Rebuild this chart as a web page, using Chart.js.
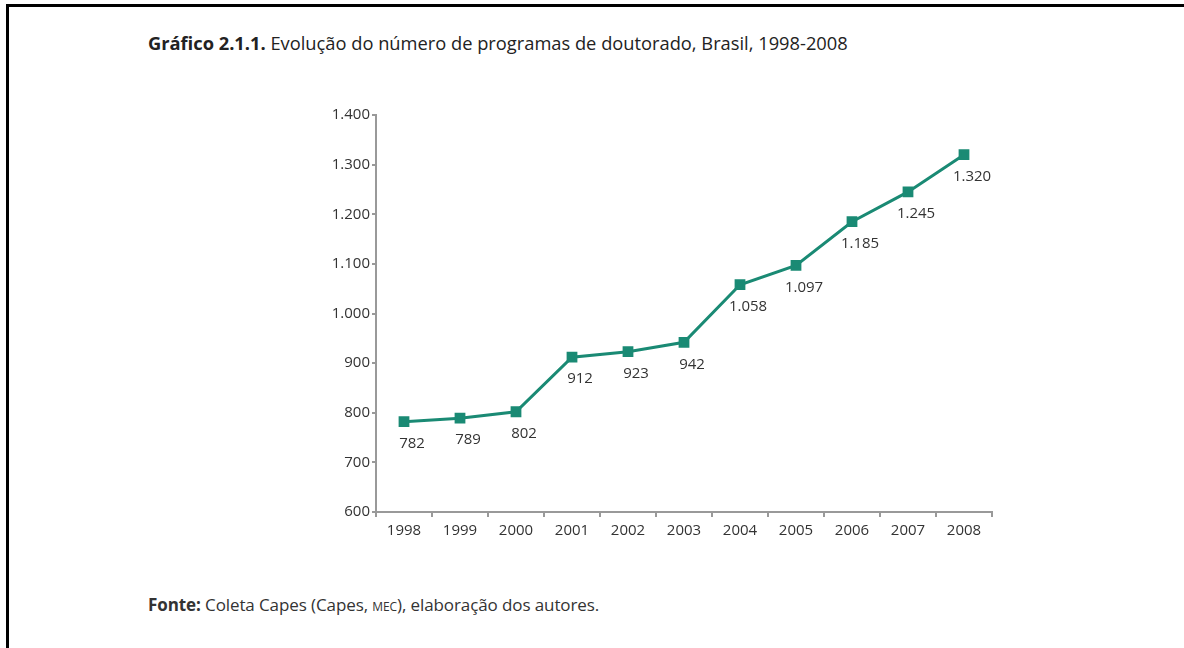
<!DOCTYPE html>
<html>
<head>
<meta charset="utf-8">
<script src="https://cdn.jsdelivr.net/npm/chart.js@4.4.0/dist/chart.umd.min.js"></script>
<style>
  body { margin: 0; background: #fff; font-family: "Open Sans", sans-serif; }
  #frame { position: absolute; left: 6px; top: 4px; width: 1178px; height: 644px;
           border-left: 3px solid #000; border-top: 3px solid #000; box-sizing: border-box; }
  #title { position: absolute; left: 148px; top: 30px; font-size: 18.3px; color: #222; }
  #title b { font-weight: 700; }
  #source { position: absolute; left: 148px; top: 593px; font-size: 17px; color: #333;
            letter-spacing: -0.1px; }
  #wrap { position: absolute; left: 300px; top: 104px; width: 702px; height: 448px; }
</style>
</head>
<body>
<div id="frame"></div>
<div id="title"><b>Gráfico 2.1.1.</b> Evolução do número de programas de doutorado, Brasil, 1998-2008</div>
<div id="wrap"><canvas id="chart"></canvas></div>
<div id="source"><b>Fonte:</b> Coleta Capes (Capes, <span style="font-variant: small-caps;">mec</span>), elaboração dos autores.</div>
<script>
// anos e número de programas
var years = ["1998", "1999", "2000", "2001", "2002", "2003", "2004", "2005", "2006", "2007", "2008"];
var programs = [782, 789, 802, 912, 923, 942, 1058, 1097, 1185, 1245, 1320];
var yTicks = [600, 700, 800, 900, 1000, 1100, 1200, 1300, 1400];

var teal = '#1a8a74';

function fmt(v){
    // thousands separator with a dot
    return String(v).replace(/\B(?=(\d{3})+(?!\d))/g, '.');
}

//Draws the value under each point
var valueLabels = {
    id: 'valueLabels',
    afterDatasetsDraw: function(chart){
        var ctx = chart.ctx;
        var meta = chart.getDatasetMeta(0);
        ctx.save();
        ctx.font = '15px "Open Sans", sans-serif';
        ctx.fillStyle = '#333';
        ctx.textAlign = 'center';
        ctx.textBaseline = 'middle';
        meta.data.forEach(function(pt, i){
            ctx.fillText(fmt(programs[i]), pt.x + 8, pt.y + 22);
        });
        ctx.restore();
    }
};

var chartData = {
    type: 'line',
    data: {
        labels: years,
        datasets: [{
            data: programs,
            borderColor: teal,
            backgroundColor: teal,
            borderWidth: 3,
            pointStyle: 'rect',
            pointRadius: 5.5,
            pointHoverRadius: 5.5,
            tension: 0
        }]
    },
    options: {
        responsive: true,
        maintainAspectRatio: false,
        animation: false,
        layout: {padding: {top: 10, right: 10, left: 0, bottom: 0}},
        plugins: {legend: {display: false}, tooltip: {enabled: false}},
        scales: {
            x: {
                offset: true,
                grid: {offset: true, drawOnChartArea: false, drawTicks: true, tickLength: 5, color: '#999', lineWidth: 2},
                border: {display: true, color: '#999', width: 2},
                ticks: {color: '#333', font: {size: 15, family: '"Open Sans", sans-serif'}, padding: 5, maxRotation: 0},
                afterFit: function(s){ s.height = 40; }
            },
            y: {
                min: 600,
                max: 1400,
                afterBuildTicks: function(s){ s.ticks = yTicks.map(function(v){ return {value: v}; }); },
                grid: {drawOnChartArea: false, drawTicks: true, tickLength: 4, color: '#999', lineWidth: 2},
                border: {display: true, color: '#999', width: 2},
                ticks: {color: '#333', font: {size: 15, family: '"Open Sans", sans-serif'}, padding: 2,
                        callback: function(v){ return fmt(v); }},
                afterFit: function(s){ s.width = 76; }
            }
        }
    },
    plugins: [valueLabels]
};

var ctx = document.getElementById("chart");
var chart = new Chart(ctx, chartData);
</script>
</body>
</html>
